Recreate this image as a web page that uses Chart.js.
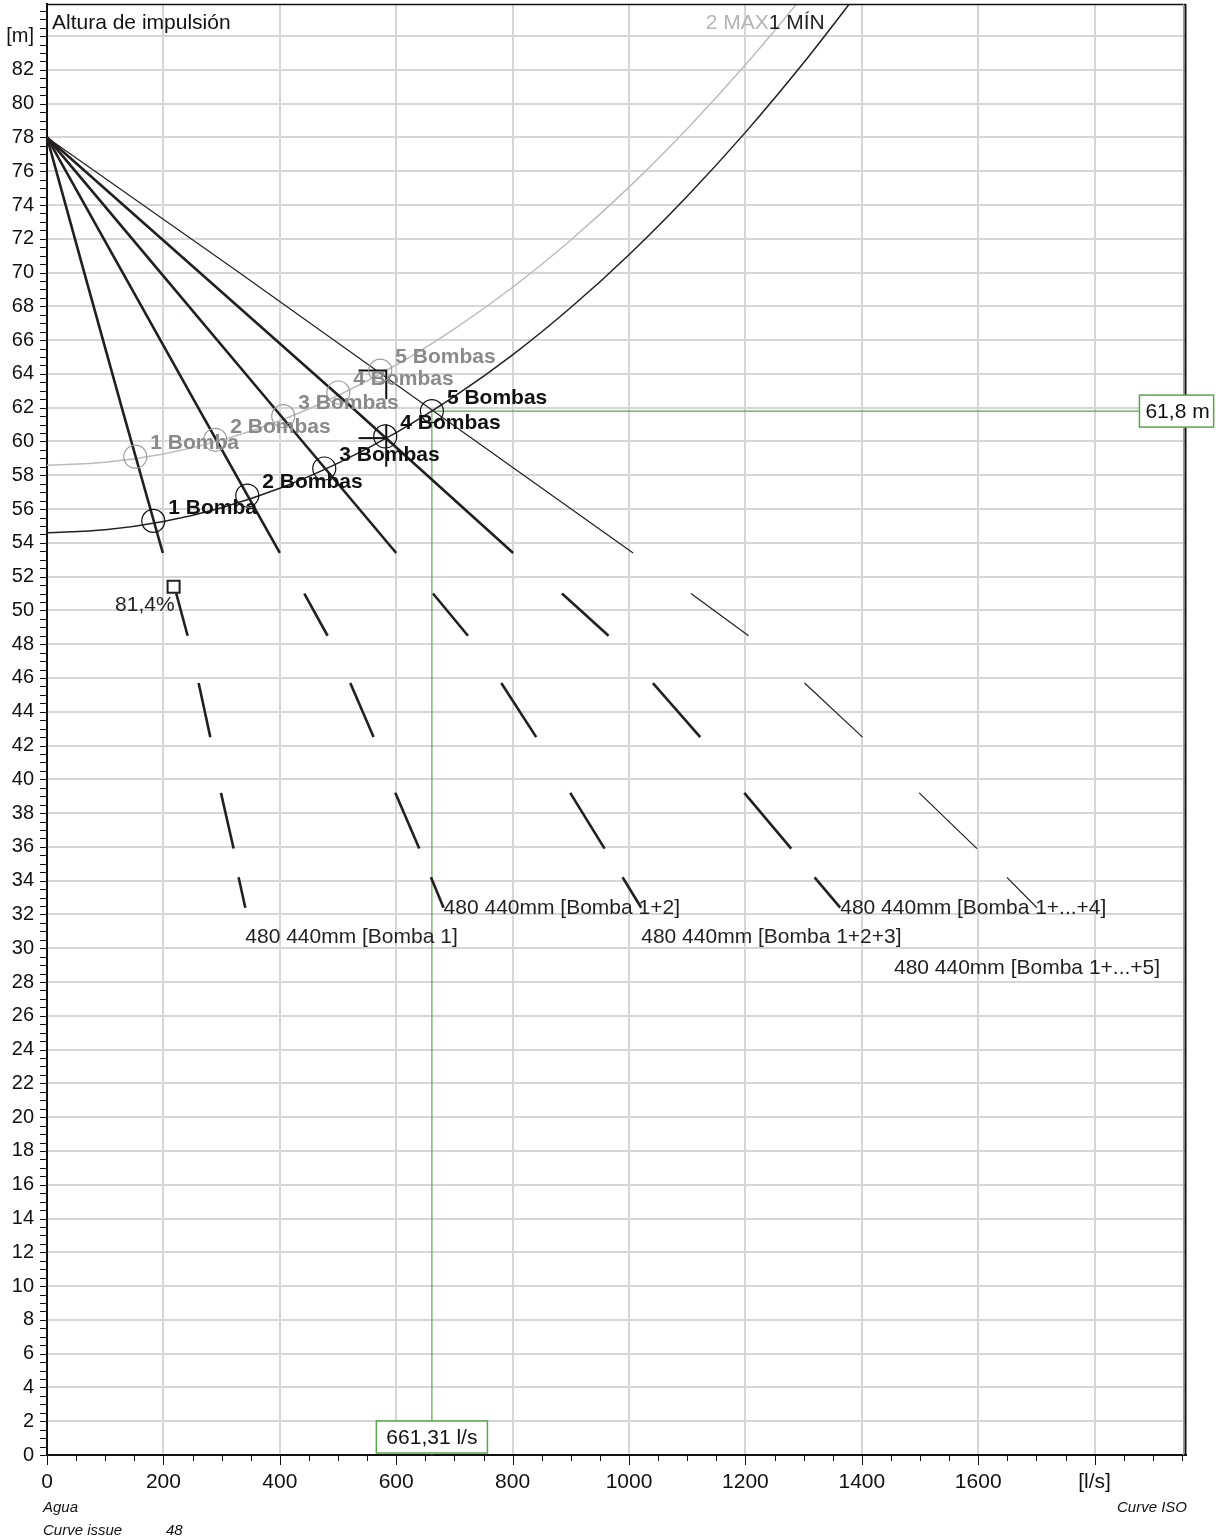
<!DOCTYPE html>
<html>
<head>
<meta charset="utf-8">
<title>Altura de impulsión</title>
<script src="https://cdn.jsdelivr.net/npm/chart.js@4.4.1/dist/chart.umd.min.js"></script>
<style>
  html, body { margin: 0; padding: 0; background: #fff; }
  canvas { display: block; }
</style>
</head>
<body>
<canvas id="chart" width="1223" height="1540"></canvas>
<script>
// Axis ranges: flow [l/s] and head [m]
const X_MAX = 1957;
const Y_MAX = 85.9;

// System curves (MIN / MAX static level)
const SYSTEM_FLOW     = [0, 100, 200, 300, 400, 500, 600, 700, 800, 900, 1000, 1100, 1200, 1300, 1400];
const SYSTEM_MIN_HEAD = [54.60, 54.77, 55.26, 56.08, 57.23, 58.72, 60.53, 62.67, 65.13, 67.93, 71.06, 74.52, 78.30, 82.42, 86.86];
const SYSTEM_MAX_HEAD = [58.60, 58.77, 59.26, 60.08, 61.23, 62.72, 64.53, 66.67, 69.13, 71.93, 75.06, 78.52, 82.30, 86.42, 90.86];

// Pump curves: solid range, then the extended (dashed) range
const PUMP_SOLID_HEAD = [78.0, 70.0, 62.0, 53.4];
const PUMP_DASH_HEAD  = [51.0, 48.5, 45.7, 42.5, 39.2, 35.9, 34.2, 32.4];

const PUMP1_SOLID_FLOW = [0, 64, 128.5, 199];
const PUMP2_SOLID_FLOW = [0, 130, 259.7, 400];
const PUMP3_SOLID_FLOW = [0, 195.1, 390.2, 600];
const PUMP4_SOLID_FLOW = [0, 262.3, 524.6, 801];
const PUMP5_SOLID_FLOW = [0, 330, 656, 1007];

const PUMP1_DASH_FLOW = [222.1, 241.6, 260.5, 280.6, 298.9, 320.6, 329.2, 340.7];
const PUMP2_DASH_FLOW = [442.1, 482.1, 521.1, 561.1, 598.4, 639.6, 659.7, 681.4];
const PUMP3_DASH_FLOW = [663.2, 723.3, 780.5, 840.6, 899.0, 958.0, 988.9, 1021.0];
const PUMP4_DASH_FLOW = [884.8, 964.9, 1041.1, 1122.4, 1198.0, 1278.7, 1318.8, 1362.9];
const PUMP5_DASH_FLOW = [1106.4, 1205.4, 1301.6, 1401.2, 1498.6, 1597.8, 1649.3, 1700.9];

const PUMP_CURVE_NAMES = [
  '480 440mm [Bomba 1]',
  '480 440mm [Bomba 1+2]',
  '480 440mm [Bomba 1+2+3]',
  '480 440mm [Bomba 1+...+4]',
  '480 440mm [Bomba 1+...+5]'
];
const PUMP_COUNT_LABELS = ['1 Bomba', '2 Bombas', '3 Bombas', '4 Bombas', '5 Bombas'];

// Operating points on the MIN and MAX system curves
const DUTY_MIN_FLOW = [182.6, 344.1, 476.4, 581.2, 661.31];
const DUTY_MIN_HEAD = [55.3, 56.8, 58.4, 60.3, 61.8];
const DUTY_MAX_FLOW = [151.7, 289.1, 405.9, 500.5, 572.6];
const DUTY_MAX_HEAD = [59.1, 60.1, 61.5, 62.9, 64.2];

// Selected duty point (5 pumps, MIN)
const DUTY_FLOW = 661.31;
const DUTY_HEAD = 61.8;

// Best efficiency point of one pump
const BEP_FLOW = 217.5;
const BEP_HEAD = 51.4;
const BEP_EFFICIENCY = 81.4;

// Tolerance brackets
const TOL_UPPER_FLOW = [535.3, 582.9, 582.9];
const TOL_UPPER_HEAD = [64.2, 64.2, 62.5];
const TOL_LOWER_FLOW = [535.3, 582.9, 582.9, 582.9];
const TOL_LOWER_HEAD = [60.2, 60.2, 61.0, 58.5];

const INK = '#231f20';
const GREY_LINE = '#bcbcbc';
const GREY_TEXT = '#8a8a8a';
const GREEN = '#5aa64c';
const FONT = "'Liberation Sans', Arial, Helvetica, sans-serif";

const zip = (xs, ys) => xs.map((x, i) => ({ x, y: ys[i] }));
const decimal = (v, d) => v.toFixed(d).replace('.', ',');

function pumpDataset(solidFlow, dashFlow, width) {
  const data = zip(solidFlow, PUMP_SOLID_HEAD).concat(zip(dashFlow, PUMP_DASH_HEAD));
  const solidEnd = solidFlow.length - 1;
  return {
    type: 'line',
    data,
    borderColor: INK,
    borderWidth: width,
    pointRadius: 0,
    tension: 0,
    borderCapStyle: 'butt',
    order: 3,
    segment: {
      // beyond the solid range the curve is drawn as alternating dashes
      borderColor: ctx => {
        const k = ctx.p0DataIndex;
        if (k < solidEnd) return INK;
        return (k - solidEnd) % 2 === 0 ? 'rgba(0,0,0,0)' : INK;
      }
    }
  };
}

const pumpSets = [
  pumpDataset(PUMP1_SOLID_FLOW, PUMP1_DASH_FLOW, 2.6),
  pumpDataset(PUMP2_SOLID_FLOW, PUMP2_DASH_FLOW, 2.6),
  pumpDataset(PUMP3_SOLID_FLOW, PUMP3_DASH_FLOW, 2.6),
  pumpDataset(PUMP4_SOLID_FLOW, PUMP4_DASH_FLOW, 2.6),
  pumpDataset(PUMP5_SOLID_FLOW, PUMP5_DASH_FLOW, 1.2)
];

const datasets = [
  {
    type: 'scatter', data: zip(DUTY_MIN_FLOW, DUTY_MIN_HEAD),
    pointStyle: 'circle', pointRadius: 11.5, pointBorderWidth: 1.2,
    pointBorderColor: '#111', pointBackgroundColor: 'rgba(0,0,0,0)', showLine: false, order: 1
  },
  {
    type: 'scatter', data: zip(DUTY_MAX_FLOW, DUTY_MAX_HEAD),
    pointStyle: 'circle', pointRadius: 11.5, pointBorderWidth: 1.2,
    pointBorderColor: '#9a9a9a', pointBackgroundColor: 'rgba(0,0,0,0)', showLine: false, order: 1
  },
  {
    type: 'scatter', data: [{ x: BEP_FLOW, y: BEP_HEAD }],
    pointStyle: 'rect', pointRadius: 8.5, pointBorderWidth: 2,
    pointBorderColor: INK, pointBackgroundColor: '#fff', showLine: false, order: 0
  },
  {
    type: 'line', data: zip(TOL_UPPER_FLOW, TOL_UPPER_HEAD),
    borderColor: '#111', borderWidth: 2, pointRadius: 0, tension: 0, order: 1
  },
  {
    type: 'line', data: zip(TOL_LOWER_FLOW.slice(0, 2), TOL_LOWER_HEAD.slice(0, 2)),
    borderColor: '#111', borderWidth: 2, pointRadius: 0, tension: 0, order: 1
  },
  {
    type: 'line', data: zip(TOL_LOWER_FLOW.slice(2), TOL_LOWER_HEAD.slice(2)),
    borderColor: '#111', borderWidth: 2, pointRadius: 0, tension: 0, order: 1
  },
  ...pumpSets,
  {
    type: 'line', data: zip(SYSTEM_FLOW, SYSTEM_MIN_HEAD),
    borderColor: INK, borderWidth: 1.5, pointRadius: 0,
    cubicInterpolationMode: 'monotone', order: 5
  },
  {
    type: 'line', data: zip(SYSTEM_FLOW, SYSTEM_MAX_HEAD),
    borderColor: GREY_LINE, borderWidth: 1.5, pointRadius: 0,
    cubicInterpolationMode: 'monotone', order: 6
  },
  {
    type: 'line',
    data: [{ x: DUTY_FLOW, y: 0 }, { x: DUTY_FLOW, y: DUTY_HEAD }, { x: X_MAX, y: DUTY_HEAD }],
    borderColor: GREEN, borderWidth: 1.2, pointRadius: 0, tension: 0, order: 10
  }
];

function labelBox(ctx, text, x0, cy, padL, padR) {
  ctx.font = '21px ' + FONT;
  const w = ctx.measureText(text).width + padL + padR;
  const h = 32;
  ctx.fillStyle = '#fff';
  ctx.fillRect(x0, cy - h / 2, w, h);
  ctx.strokeStyle = GREEN;
  ctx.lineWidth = 1.5;
  ctx.strokeRect(x0, cy - h / 2, w, h);
  ctx.fillStyle = '#111';
  ctx.textAlign = 'left';
  ctx.textBaseline = 'middle';
  ctx.fillText(text, x0 + padL, cy + 1);
}

const decor = {
  id: 'decor',
  afterDatasetsDraw(chart) {
    const { ctx, chartArea: a, scales: { x, y } } = chart;
    ctx.save();
    ctx.beginPath();
    ctx.rect(a.left, a.top, a.right - a.left, a.bottom - a.top);
    ctx.clip();

    // chart title inside the plot
    ctx.fillStyle = '#111';
    ctx.font = '21px ' + FONT;
    ctx.textAlign = 'left';
    ctx.textBaseline = 'middle';
    ctx.fillText('Altura de impulsión', a.left + 5, a.top + 19);

    // system curve names
    const topX = x.getPixelForValue(1240);
    ctx.textAlign = 'right';
    ctx.fillStyle = '#b4b4b4';
    ctx.fillText('2 MAX', topX, a.top + 19);
    ctx.textAlign = 'left';
    ctx.fillStyle = INK;
    ctx.fillText('1 MÍN', topX, a.top + 19);

    // pump-count labels at the operating points
    ctx.font = 'bold 21px ' + FONT;
    ctx.textBaseline = 'middle';
    ctx.fillStyle = GREY_TEXT;
    DUTY_MAX_FLOW.forEach((q, i) => {
      ctx.fillText(PUMP_COUNT_LABELS[i], x.getPixelForValue(q) + 15, y.getPixelForValue(DUTY_MAX_HEAD[i]) - 13);
    });
    ctx.fillStyle = '#111';
    DUTY_MIN_FLOW.forEach((q, i) => {
      ctx.fillText(PUMP_COUNT_LABELS[i], x.getPixelForValue(q) + 15, y.getPixelForValue(DUTY_MIN_HEAD[i]) - 13);
    });

    // efficiency at the best efficiency point
    ctx.font = '21px ' + FONT;
    ctx.fillStyle = INK;
    ctx.textAlign = 'right';
    ctx.fillText(decimal(BEP_EFFICIENCY, 1) + '%', x.getPixelForValue(BEP_FLOW) + 1, y.getPixelForValue(BEP_HEAD) + 18);

    // curve names at the end of each pump curve
    const ends = [PUMP1_DASH_FLOW, PUMP2_DASH_FLOW, PUMP3_DASH_FLOW, PUMP4_DASH_FLOW, PUMP5_DASH_FLOW];
    const offsets = [[0, 29], [0, 0], [0, 29], [0, 0], [-143, 60]];
    const endHead = PUMP_DASH_HEAD[PUMP_DASH_HEAD.length - 1];
    ctx.textAlign = 'left';
    ends.forEach((flows, i) => {
      const px = x.getPixelForValue(flows[flows.length - 1]) + offsets[i][0];
      const py = y.getPixelForValue(endHead) + offsets[i][1];
      ctx.fillText(PUMP_CURVE_NAMES[i], px, py);
    });
    ctx.restore();
  },
  afterDraw(chart) {
    const { ctx, chartArea: a, scales: { x, y } } = chart;
    ctx.save();
    // tick marks
    ctx.strokeStyle = '#111';
    ctx.lineWidth = 1;
    ctx.beginPath();
    for (let v = 0; v <= Y_MAX; v += 0.5) {
      const py = Math.round(y.getPixelForValue(v)) + 0.5;
      ctx.moveTo(a.left - 7, py);
      ctx.lineTo(a.left, py);
    }
    for (let v = 0; v <= X_MAX; v += 50) {
      const px = Math.round(x.getPixelForValue(v)) + 0.5;
      ctx.moveTo(px, a.bottom);
      ctx.lineTo(px, a.bottom + (v % 200 === 0 ? 10 : 6));
    }
    ctx.stroke();

    // top and right frame
    ctx.lineWidth = 1.5;
    ctx.beginPath();
    ctx.moveTo(a.left, a.top + 0.5);
    ctx.lineTo(a.right, a.top + 0.5);
    ctx.stroke();
    ctx.strokeStyle = '#9a9a9a';
    ctx.lineWidth = 1;
    ctx.beginPath();
    ctx.moveTo(a.right - 2.5, a.top);
    ctx.lineTo(a.right - 2.5, a.bottom);
    ctx.stroke();
    ctx.strokeStyle = '#111';
    ctx.lineWidth = 2;
    ctx.beginPath();
    ctx.moveTo(a.right - 0.5, a.top);
    ctx.lineTo(a.right - 0.5, a.bottom);
    ctx.stroke();

    // duty point value boxes
    ctx.font = '21px ' + FONT;
    const flowText = decimal(DUTY_FLOW, 2) + ' l/s';
    const flowW = ctx.measureText(flowText).width + 20;
    labelBox(ctx, flowText, x.getPixelForValue(DUTY_FLOW) - flowW / 2, a.bottom - 18, 10, 10);
    labelBox(ctx, decimal(DUTY_HEAD, 1) + ' m', x.getPixelForValue(1877), y.getPixelForValue(DUTY_HEAD), 6, 4);

    // footer notes
    ctx.font = 'italic 15px ' + FONT;
    ctx.fillStyle = '#111';
    ctx.textBaseline = 'middle';
    ctx.textAlign = 'left';
    ctx.fillText('Agua', 43, 1508);
    ctx.fillText('Curve issue', 43, 1531);
    ctx.fillText('48', 166, 1531);
    ctx.textAlign = 'right';
    ctx.fillText('Curve ISO', a.right + 1, 1508);
    ctx.restore();
  }
};

new Chart(document.getElementById('chart'), {
  data: { datasets },
  options: {
    responsive: false,
    animation: false,
    events: [],
    layout: { autoPadding: false, padding: { top: 4, right: 37, bottom: 0, left: 0 } },
    plugins: { legend: { display: false }, tooltip: { enabled: false } },
    scales: {
      x: {
        type: 'linear', min: 0, max: X_MAX,
        afterFit: s => { s.height = 85; s.paddingLeft = 0; s.paddingRight = 0; },
        ticks: {
          stepSize: 50, autoSkip: false, maxRotation: 0, minRotation: 0, padding: 15,
          color: '#111', font: { family: FONT, size: 21 },
          callback: v => (v % 200 === 0 && v <= 1800) ? (v === 1800 ? '[l/s]' : String(v)) : ''
        },
        grid: {
          drawTicks: false, lineWidth: 2,
          color: c => (c.tick && c.tick.value % 200 === 0 && c.tick.value > 0 && c.tick.value < X_MAX) ? '#d6d6d6' : 'rgba(0,0,0,0)'
        },
        border: { display: true, color: '#111', width: 2 }
      },
      y: {
        type: 'linear', min: 0, max: Y_MAX,
        afterFit: s => { s.width = 47; s.paddingTop = 0; s.paddingBottom = 0; },
        ticks: {
          stepSize: 0.5, autoSkip: false, padding: 13,
          color: '#111', font: { family: FONT, size: 20 },
          callback: v => (v % 2 === 0 && v <= 84) ? (v === 84 ? '[m]' : String(v)) : ''
        },
        grid: {
          drawTicks: false, lineWidth: 2,
          color: c => (c.tick && c.tick.value % 2 === 0 && c.tick.value > 0 && c.tick.value <= 84) ? '#d6d6d6' : 'rgba(0,0,0,0)'
        },
        border: { display: true, color: '#111', width: 2 }
      }
    }
  },
  plugins: [decor]
});
</script>
</body>
</html>
